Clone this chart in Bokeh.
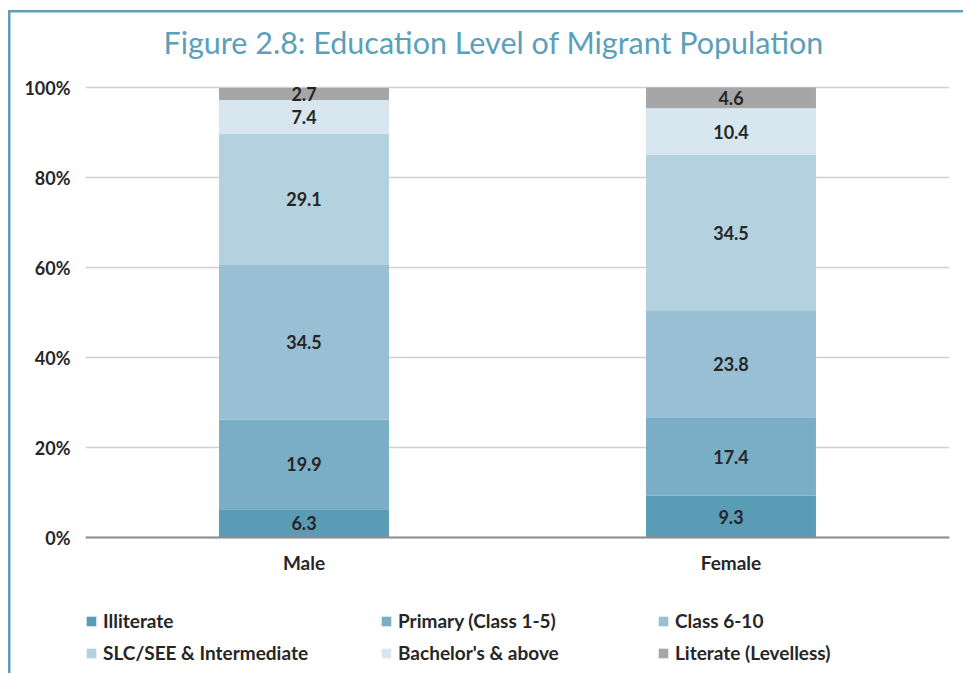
from bokeh.plotting import figure
from bokeh.models import (FactorRange, Range1d, FixedTicker, Legend, LegendItem,
                          Label, Span, ColumnDataSource)
from bokeh.core.properties import value
from bokeh.embed import file_html
from bokeh.resources import INLINE

# ---- data ----
genders = ["Male", "Female"]
levels = ["Illiterate", "Primary (Class 1-5)", "Class 6-10",
          "SLC/SEE & Intermediate", "Bachelor's & above", "Literate (Levelless)"]
illiterate = [6.3, 9.3]
primary = [19.9, 17.4]
class_6_10 = [34.5, 23.8]
slc_see = [29.1, 34.5]
bachelors = [7.4, 10.4]
literate = [2.7, 4.6]
y_ticks = [0, 20, 40, 60, 80, 100]
y_tick_labels = ["0%", "20%", "40%", "60%", "80%", "100%"]
title_text = "Figure 2.8: Education Level of Migrant Population"

colors = ["#5a9bb6", "#7aaec6", "#98bfd3", "#b4d1df", "#d7e6ef", "#a6a6a9"]
series = [illiterate, primary, class_6_10, slc_see, bachelors, literate]
keys = ["s0", "s1", "s2", "s3", "s4", "s5"]

FONT = "Lato"
TXT = "#262626"
TEAL = "#5b9fbb"

W, H = 963, 673
LEFT, RIGHT = 85, 949          # frame edges (px)
Y0_PX, Y100_PX = 537, 87       # pixel rows of 0% and 100%
ppu = (Y0_PX - Y100_PX) / 100.0
y_top = 100 + Y100_PX / ppu
y_bot = -(H - Y0_PX) / ppu

data = {"g": genders}
for k, s in zip(keys, series):
    data[k] = s
src = ColumnDataSource(data)

p = figure(x_range=FactorRange(*genders, range_padding=0.0117),
           y_range=Range1d(y_bot, y_top),
           width=W, height=H, output_backend="svg", toolbar_location=None,
           x_axis_location=None)
p.min_border = 0
p.min_border_left = LEFT
p.min_border_right = W - RIGHT
p.min_border_top = 0
p.min_border_bottom = 0
p.outline_line_color = None
p.background_fill_color = None
p.border_fill_color = None
p.styles = {
    "background-color": "white",
    "background-image": f"linear-gradient({TEAL},{TEAL}), linear-gradient({TEAL},{TEAL})",
    "background-size": "100% 2.5px, 2.5px 100%",
    "background-position": "8px 9.5px, 7.5px 9.5px",
    "background-repeat": "no-repeat",
}

p.xgrid.grid_line_color = None
p.ygrid.grid_line_color = "#d0d0d0"
p.ygrid.grid_line_width = 1.5
p.ygrid.ticker = FixedTicker(ticks=y_ticks)

renderers = p.vbar_stack(keys, x="g", width=0.398, source=src, color=colors,
                         line_color=None)

# x axis line at 0
p.add_layout(Span(location=0, dimension="width", line_color="#8e8e8e", line_width=2))

# category labels under the axis line
p.text(x=genders, y=[0, 0], text=genders, y_offset=25, text_align="center",
       text_baseline="middle", text_font=value(FONT), text_font_style="bold",
       text_font_size="19px", text_color=TXT)

# value labels centered in each segment
lab_x, lab_y, lab_t = [], [], []
for gi, g in enumerate(genders):
    base = 0.0
    for s in series:
        v = s[gi]
        lab_x.append(g)
        lab_y.append(base + v / 2.0)
        lab_t.append(f"{v:.1f}")
        base += v
p.text(x=lab_x, y=lab_y, text=lab_t, text_align="center", text_baseline="middle",
       text_font=value(FONT), text_font_style="bold", text_font_size="18px",
       text_color=TXT)

# y axis
p.yaxis.ticker = FixedTicker(ticks=y_ticks)
p.yaxis.major_label_overrides = {t: l for t, l in zip(y_ticks, y_tick_labels)}
p.yaxis.axis_line_color = None
p.yaxis.major_tick_line_color = None
p.yaxis.minor_tick_line_color = None
p.yaxis.major_tick_out = 0
p.yaxis.major_tick_in = 0
p.yaxis.minor_tick_out = 0
p.yaxis.major_label_standoff = 15
p.yaxis.major_label_text_font = FONT
p.yaxis.major_label_text_font_style = "bold"
p.yaxis.major_label_text_font_size = "18px"
p.yaxis.major_label_text_color = TXT

# legend: three columns of two items
col_x = [0, 295, 572]
for c in range(3):
    items = [LegendItem(label=levels[c], renderers=[renderers[c]]),
             LegendItem(label=levels[c + 3], renderers=[renderers[c + 3]])]
    leg = Legend(items=items, location=(col_x[c], 9), orientation="vertical",
                 padding=0, margin=0, spacing=9, glyph_width=12, glyph_height=12,
                 label_height=22, label_standoff=6, border_line_color=None,
                 background_fill_alpha=0, label_text_font=FONT,
                 label_text_font_style="bold", label_text_font_size="19px",
                 label_text_color=TXT)
    p.add_layout(leg, "center")

# title
p.add_layout(Label(x=163 - LEFT, y=H - 41, x_units="screen", y_units="screen",
                   text=title_text, text_align="left", text_baseline="alphabetic",
                   text_font=FONT, text_font_size="30.5px", text_color=TEAL))

open("out.html", "w").write(file_html(p, INLINE))
